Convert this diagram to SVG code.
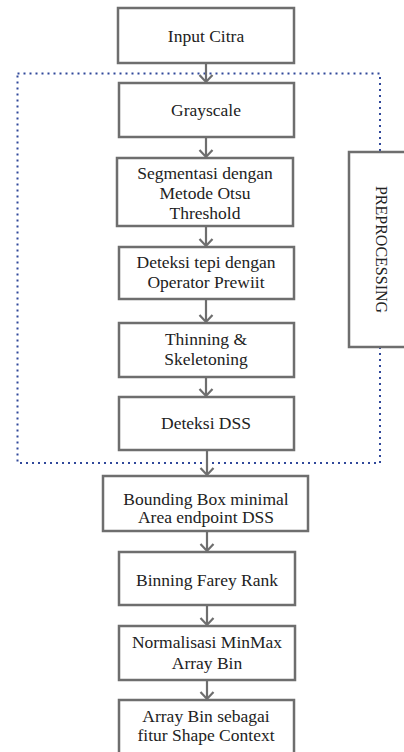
<svg xmlns="http://www.w3.org/2000/svg" width="404" height="752" viewBox="0 0 404 752">
<style>
.box{fill:#fff;stroke:#6e6e6e;stroke-width:2.5}
.c{fill:none;stroke:#6e6e6e;stroke-width:2.2}
.dot{fill:none;stroke:#30489a;stroke-width:2;stroke-dasharray:2 4}
</style>
<rect class="dot" x="17.5" y="73.5" width="362.5" height="389.5"/>
<g id="connectors">
<path class="c" d="M206 63V82M199.5 75L206 82L212.5 75"/>
<path class="c" d="M206 137V157M199.5 150L206 157L212.5 150"/>
<path class="c" d="M206 226V246M199.5 239L206 246L212.5 239"/>
<path class="c" d="M206 299V322M199.5 315L206 322L212.5 315"/>
<path class="c" d="M206 377V396M199.5 389L206 396L212.5 389"/>
<path class="c" d="M207 450V475M200.5 468L207 475L213.5 468"/>
<path class="c" d="M207 531V551M200.5 544L207 551L213.5 544"/>
<path class="c" d="M207 605V625M200.5 618L207 625L213.5 618"/>
<path class="c" d="M207 680V699M200.5 692L207 699L213.5 692"/>
</g>
<g font-family="Liberation Serif, serif" font-size="17.5" fill="#222" text-anchor="middle">
<g id="input"><rect class="box" x="118" y="8" width="176" height="55"/><text x="206" y="41.5">Input Citra</text></g>
<g id="grayscale"><rect class="box" x="119" y="83" width="175" height="54"/><text x="206" y="116">Grayscale</text></g>
<g id="segmentasi"><rect class="box" x="117" y="158" width="176" height="68"/><text x="205" y="179">Segmentasi dengan</text><text x="205" y="199">Metode Otsu</text><text x="205" y="219">Threshold</text></g>
<g id="deteksi-tepi"><rect class="box" x="119" y="247" width="175" height="52"/><text x="206" y="268">Deteksi tepi dengan</text><text x="206" y="288">Operator Prewiit</text></g>
<g id="thinning"><rect class="box" x="119" y="323" width="175" height="54"/><text x="206" y="345">Thinning &amp;</text><text x="206" y="365">Skeletoning</text></g>
<g id="dss"><rect class="box" x="119" y="397" width="175" height="53"/><text x="206" y="429">Deteksi DSS</text></g>
<g id="bounding"><rect class="box" x="103" y="476" width="205" height="55"/><text x="206" y="505">Bounding Box minimal</text><text x="206" y="523">Area endpoint DSS</text></g>
<g id="binning"><rect class="box" x="119" y="552" width="176" height="53"/><text x="207" y="585.5">Binning Farey Rank</text></g>
<g id="normalisasi"><rect class="box" x="119" y="626" width="176" height="54"/><text x="207" y="648">Normalisasi MinMax</text><text x="207" y="669">Array Bin</text></g>
<g id="arraybin"><rect class="box" x="119" y="700" width="175" height="60"/><text x="206" y="722">Array Bin sebagai</text><text x="206" y="741">fitur Shape Context</text></g>
<g id="preprocessing"><rect class="box" x="349" y="152" width="60" height="195"/><text transform="translate(375.5 249.5) rotate(90)" font-size="16">PREPROCESSING</text></g>
</g>
</svg>
